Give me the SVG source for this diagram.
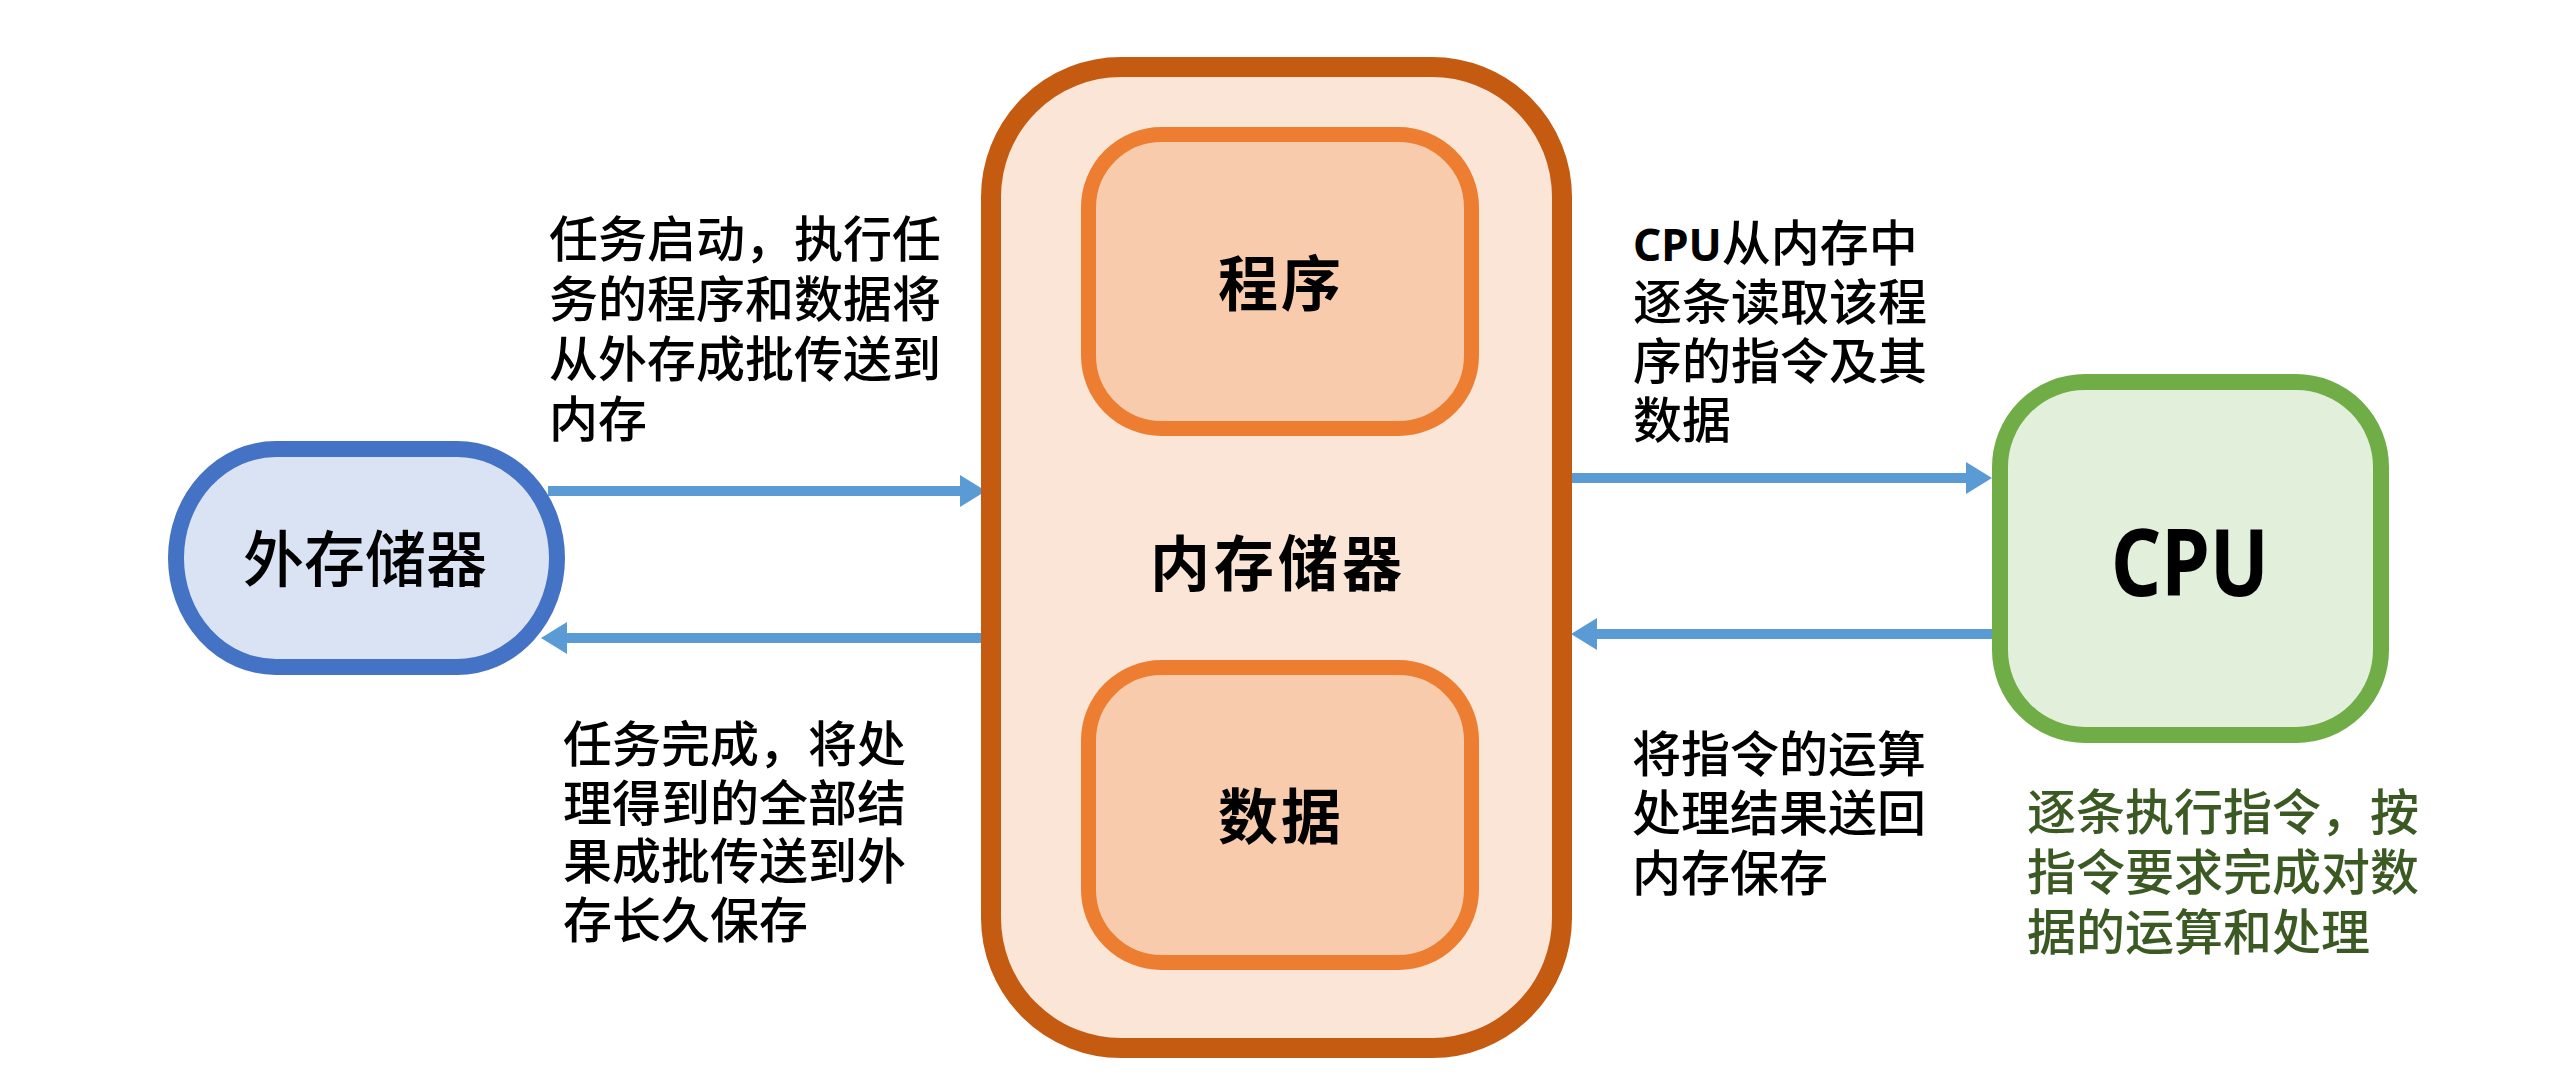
<svg xmlns="http://www.w3.org/2000/svg" width="2560" height="1092" viewBox="0 0 2560 1092">
<defs>
<style>
.lbl{font-family:"Noto Sans CJK SC","Noto Sans",sans-serif;font-size:49px;font-weight:500;fill:#000}
.green{fill:#3B5A23}
.title{font-family:"Noto Sans CJK SC","Noto Sans",sans-serif;font-size:60px;font-weight:bold;fill:#000;text-anchor:middle}
.conn{stroke:#5B9BD5;stroke-width:10;fill:none}
.lat{font-family:"Noto Sans","Open Sans",sans-serif;font-weight:bold}
</style>
<marker id="ah" markerUnits="userSpaceOnUse" markerWidth="26" markerHeight="32" refX="0" refY="16" orient="auto">
<path d="M0,0 L26,16 L0,32 Z" fill="#5B9BD5"/>
</marker>
</defs>
<rect width="2560" height="1092" fill="#fff"/>
<g id="connectors">
<line class="conn" x1="548" y1="491" x2="960" y2="491" marker-end="url(#ah)"/>
<line class="conn" x1="981" y1="638" x2="567" y2="638" marker-end="url(#ah)"/>
<line class="conn" x1="1572" y1="478" x2="1966" y2="478" marker-end="url(#ah)"/>
<line class="conn" x1="1992" y1="634" x2="1597" y2="634" marker-end="url(#ah)"/>
</g>
<g id="external">
<rect x="176" y="449" width="381" height="218" rx="100" ry="109" fill="#DAE3F3" stroke="#4472C4" stroke-width="16"/>
<text x="365" y="582" font-family="Noto Sans CJK SC, sans-serif" font-size="61" font-weight="500" text-anchor="middle" fill="#000">外存储器</text>
</g>
<g id="memory">
<rect x="991" y="67" width="571" height="981" rx="130" ry="130" fill="#FBE5D6" stroke="#C55A11" stroke-width="20"/>
<text class="title" x="1278" y="586" letter-spacing="4">内存储器</text>
</g>
<g id="program">
<rect x="1088.5" y="134.5" width="383" height="294" rx="73" ry="73" fill="#F8CBAD" stroke="#ED7D31" stroke-width="15"/>
<text class="title" x="1281" y="306" letter-spacing="3">程序</text>
</g>
<g id="data">
<rect x="1088.5" y="667.5" width="383" height="295" rx="73" ry="73" fill="#F8CBAD" stroke="#ED7D31" stroke-width="15"/>
<text class="title" x="1281" y="839" letter-spacing="3">数据</text>
</g>
<g id="cpu">
<rect x="2000" y="382" width="381" height="353" rx="85" ry="85" fill="#E2EFDA" stroke="#70AD47" stroke-width="16"/>
<text x="2111" y="596" class="lat" font-size="94" textLength="158" lengthAdjust="spacingAndGlyphs" fill="#000">CPU</text>
</g>
<g id="label-load">
<text class="lbl" x="549" y="257">任务启动，执行任</text>
<text class="lbl" x="549" y="317">务的程序和数据将</text>
<text class="lbl" x="549" y="377">从外存成批传送到</text>
<text class="lbl" x="549" y="437">内存</text>
</g>
<g id="label-save">
<text class="lbl" x="563" y="762">任务完成，将处</text>
<text class="lbl" x="563" y="821">理得到的全部结</text>
<text class="lbl" x="563" y="879">果成批传送到外</text>
<text class="lbl" x="563" y="938">存长久保存</text>
</g>
<g id="label-fetch">
<text class="lbl" x="1633" y="261"><tspan class="lat" font-size="44">CPU</tspan>从内存中</text>
<text class="lbl" x="1633" y="320">逐条读取该程</text>
<text class="lbl" x="1633" y="379">序的指令及其</text>
<text class="lbl" x="1633" y="438">数据</text>
</g>
<g id="label-return">
<text class="lbl" x="1632" y="772">将指令的运算</text>
<text class="lbl" x="1632" y="831">处理结果送回</text>
<text class="lbl" x="1632" y="891">内存保存</text>
</g>
<g id="label-exec">
<text class="lbl green" x="2027" y="830">逐条执行指令，按</text>
<text class="lbl green" x="2027" y="890">指令要求完成对数</text>
<text class="lbl green" x="2027" y="950">据的运算和处理</text>
</g>
</svg>
